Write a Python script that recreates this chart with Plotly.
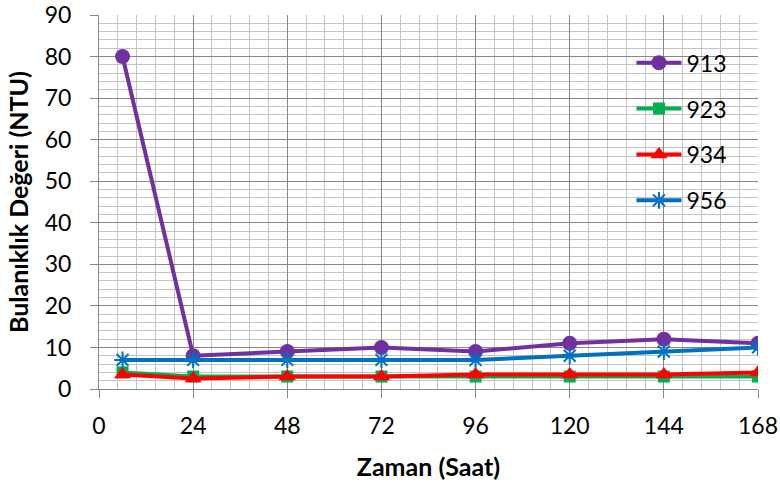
import plotly.graph_objects as go

saat = [6, 24, 48, 72, 96, 120, 144, 168]

seri_913 = [80, 8, 9, 10, 9, 11, 12, 11]
seri_923 = [4, 3, 3, 3, 3, 3, 3, 3]
seri_934 = [3.5, 2.5, 3, 3, 3.5, 3.5, 3.5, 4]
seri_956 = [7, 7, 7, 7, 7, 8, 9, 10]

x_ticks = [0, 24, 48, 72, 96, 120, 144, 168]
y_ticks = [0, 10, 20, 30, 40, 50, 60, 70, 80, 90]

seriler = [
    ("913", seri_913, "#7030A0", dict(symbol="circle", size=15)),
    ("923", seri_923, "#00B050", dict(symbol="square", size=12)),
    ("934", seri_934, "#FF0000", dict(symbol="triangle-up", size=15)),
    ("956", seri_956, "#0070C0", dict(symbol="asterisk-open", size=14,
                                      line=dict(width=2, color="#0070C0"))),
]

fig = go.Figure()
for ad, degerler, renk, mk in seriler:
    fig.add_trace(go.Scatter(
        x=saat, y=degerler, name=ad, mode="lines+markers",
        line=dict(color=renk, width=4),
        marker=dict(color=renk, **mk),
        legendgroup=ad,
    ))

FONT = "Lato, Liberation Sans, sans-serif"
IZGARA = "#878787"
INCE = "#c4c4c4"

fig.update_layout(
    width=780, height=485,
    plot_bgcolor="white", paper_bgcolor="white",
    margin=dict(l=99, r=22, t=15, b=96),
    font=dict(family=FONT, size=23, color="black"),
    showlegend=True,
    legend=dict(
        x=0.808, y=0.93, xanchor="left", yanchor="top",
        bgcolor="rgba(0,0,0,0)", tracegroupgap=13,
        font=dict(size=23), itemwidth=45,
    ),
    xaxis=dict(
        range=[0, 168], tickvals=x_ticks, showgrid=True, automargin=False,
        gridcolor=IZGARA, gridwidth=1,
        minor=dict(dtick=4.8, tick0=0, showgrid=True, gridcolor=INCE, gridwidth=1),
        showline=True, linecolor=IZGARA, linewidth=1,
        ticks="outside", ticklen=8, tickcolor=IZGARA, ticklabelstandoff=8,
        ticklabeloverflow="allow",
        zeroline=False,
        title=dict(text="<b>Zaman (Saat)</b>", font=dict(size=25), standoff=20),
    ),
    yaxis=dict(
        range=[0, 90], tickvals=y_ticks, showgrid=True, automargin=False,
        gridcolor=IZGARA, gridwidth=1,
        minor=dict(dtick=2, tick0=0, showgrid=True, gridcolor=INCE, gridwidth=1),
        showline=True, linecolor=IZGARA, linewidth=1,
        ticks="outside", ticklen=8, tickcolor=IZGARA, ticklabelstandoff=14,
        ticklabeloverflow="allow",
        zeroline=False,
        title=dict(text="<b>Bulanıklık Değeri (NTU)</b>", font=dict(size=25), standoff=8),
    ),
)

# sayfa gövdesinin varsayılan 8 px kenar boşluğunu kaldır
fig.write_html("out.html", config={"displayModeBar": False},
               post_script="document.body.style.margin='0';")
